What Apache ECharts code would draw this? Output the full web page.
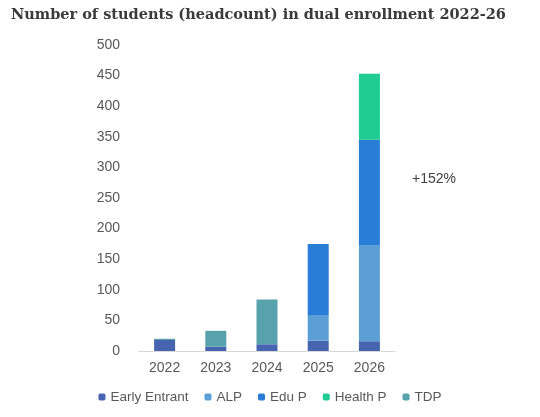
<!DOCTYPE html>
<html>
<head><meta charset="utf-8"></head>
<body style="margin:0;background:#fff;">
<div id="container" style="width:540px;height:417px"></div>
<script src="https://cdn.jsdelivr.net/npm/echarts@6/dist/echarts.min.js"></script>
<script>
var years = ['2022', '2023', '2024', '2025', '2026'];
var earlyEntrant = [18, 7, 11, 17, 16];
var alp = [0, 0, 0, 42, 157];
var eduP = [0, 0, 0, 116, 172];
var healthP = [0, 0, 0, 0, 108];
var tdp = [2, 26, 73, 0, 0];
var yTicks = [0, 50, 100, 150, 200, 250, 300, 350, 400, 450, 500];

var chart = echarts.init(document.getElementById('container'));
function s(name, data, color) {
    return { name: name, type: 'bar', stack: 'a', data: data, barWidth: 21, itemStyle: { color: color } };
}
chart.setOption({
    animation: false,
    title: {
        text: 'Number of students (headcount) in dual enrollment 2022-26',
        left: 6, top: 3,
        textStyle: { fontFamily: 'DejaVu Serif', fontWeight: 'bold', fontSize: 14.5, color: '#3a3a3a' }
    },
    grid: { left: 139, right: 145, top: 45, bottom: 66 },
    legend: {
        bottom: 8, left: 'center', itemWidth: 7, itemHeight: 7, itemGap: 16,
        textStyle: { fontFamily: 'Arial', fontSize: 13.5, color: '#595959' },
        data: ['Early Entrant', 'ALP', 'Edu P', 'Health P', 'TDP']
    },
    xAxis: {
        type: 'category', data: years,
        axisLine: { lineStyle: { color: '#d9d9d9' } }, axisTick: { show: false },
        axisLabel: { fontFamily: 'Arial', fontSize: 14, color: '#595959', margin: 10 }
    },
    yAxis: {
        type: 'value', min: yTicks[0], max: yTicks[yTicks.length - 1], interval: 50,
        splitLine: { show: false },
        axisLabel: { fontFamily: 'Arial', fontSize: 14, color: '#595959', margin: 19 }
    },
    graphic: [{ type: 'text', left: 412, top: 172, style: { text: '+152%', font: '14px Arial', fill: '#404040' } }],
    series: [
        s('Early Entrant', earlyEntrant, '#4664b0'),
        s('ALP', alp, '#5b9fd6'),
        s('Edu P', eduP, '#2a7dd6'),
        s('Health P', healthP, '#1fcc92'),
        s('TDP', tdp, '#58a2ae')
    ]
});
</script>
</body>
</html>
